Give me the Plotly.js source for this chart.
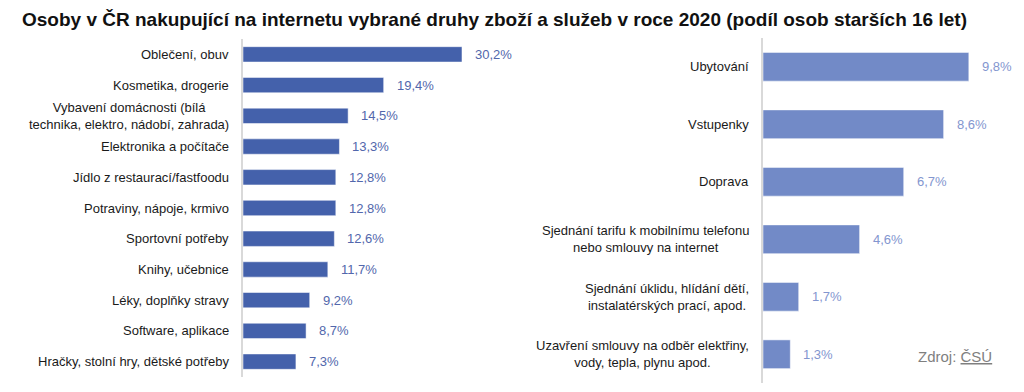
<!DOCTYPE html>
<html>
<head>
<meta charset="utf-8">
<script src="https://cdn.plot.ly/plotly-3.0.1.min.js"></script>
<style>html,body{margin:0;padding:0;background:#fff;}#chart{width:1024px;height:392px;}</style>
</head>
<body>
<div id="chart"></div>
<script>
// Data
const titleText = 'Osoby v ČR nakupující na internetu vybrané druhy zboží a služeb v roce 2020 (podíl osob starších 16 let)';
const goodsCategories = [
  'Oblečení, obuv',
  'Kosmetika, drogerie',
  'Vybavení domácnosti (bílá<br>technika, elektro, nádobí, zahrada)',
  'Elektronika a počítače',
  'Jídlo z restaurací/fastfoodu',
  'Potraviny, nápoje, krmivo',
  'Sportovní potřeby',
  'Knihy, učebnice',
  'Léky, doplňky stravy',
  'Software, aplikace',
  'Hračky, stolní hry, dětské potřeby'
];
const goodsValues = [30.2, 19.4, 14.5, 13.3, 12.8, 12.8, 12.6, 11.7, 9.2, 8.7, 7.3];
const servicesCategories = [
  'Ubytování',
  'Vstupenky',
  'Doprava',
  'Sjednání tarifu k mobilnímu telefonu<br>nebo smlouvy na internet',
  'Sjednání úklidu, hlídání dětí,<br>instalatérských prací, apod.',
  'Uzavření smlouvy na odběr elektřiny,<br>vody, tepla, plynu apod.'
];
const servicesValues = [9.8, 8.6, 6.7, 4.6, 1.7, 1.3];
const sourceText = 'Zdroj: <span style="text-decoration:underline">ČSÚ</span>';

const W = 1024, H = 392;
const FONT = 'Liberation Sans, Arial, sans-serif';
const fmt = v => v.toFixed(1).replace('.', ',') + '%';

const traces = [
  {
    type: 'bar', orientation: 'h',
    y: goodsCategories, x: goodsValues,
    xaxis: 'x', yaxis: 'y',
    marker: {color: '#4461AB', line: {color: 'rgba(255,255,255,0.5)', width: 1}},
    hoverinfo: 'skip', showlegend: false
  },
  {
    type: 'bar', orientation: 'h',
    y: servicesCategories, x: servicesValues,
    xaxis: 'x2', yaxis: 'y2',
    marker: {color: '#728AC7', line: {color: 'rgba(255,255,255,0.5)', width: 1}},
    hoverinfo: 'skip', showlegend: false
  }
];

const annotations = [];
function addLabels(cats, vals, xr, yr, valColor) {
  cats.forEach((c, i) => {
    annotations.push({
      xref: xr, yref: yr, x: 0, y: c, text: c,
      xanchor: 'right', yanchor: 'middle', align: 'center', xshift: -12,
      showarrow: false, font: {family: FONT, size: 13, color: '#1a1a1a'}
    });
    annotations.push({
      xref: xr, yref: yr, x: vals[i], y: c, text: fmt(vals[i]),
      xanchor: 'left', yanchor: 'middle', xshift: 11,
      showarrow: false, font: {family: FONT, size: 13, color: valColor}
    });
  });
}
addLabels(goodsCategories, goodsValues, 'x', 'y', '#5267AC');
addLabels(servicesCategories, servicesValues, 'x2', 'y2', '#8396CF');

annotations.push({
  xref: 'paper', yref: 'paper', x: 916 / W, y: 1 - 356 / H,
  xanchor: 'left', yanchor: 'middle', text: sourceText, showarrow: false,
  font: {family: FONT, size: 15, color: '#7f7f7f'}
});

const layout = {
  width: W, height: H,
  margin: {l: 0, r: 0, t: 0, b: 0},
  paper_bgcolor: '#ffffff', plot_bgcolor: '#ffffff',
  title: {
    text: '<b>' + titleText + '</b>',
    x: 22 / W, xanchor: 'left', xref: 'paper',
    y: 1 - 19 / H, yanchor: 'middle', yref: 'container',
    font: {family: FONT, size: 19, color: '#111111'}
  },
  xaxis: {domain: [243 / W, 520 / W], range: [0, 38.2], visible: false, fixedrange: true},
  yaxis: {
    domain: [1 - 377 / H, 1 - 39 / H], autorange: 'reversed',
    showticklabels: false, showgrid: false, zeroline: false,
    showline: true, linecolor: '#d9d9d9', linewidth: 2, ticks: '', anchor: 'x'
  },
  xaxis2: {domain: [763 / W, 1010 / W], range: [0, 11.76], visible: false, fixedrange: true, anchor: 'y2'},
  yaxis2: {
    domain: [1 - 383 / H, 1 - 38 / H], autorange: 'reversed',
    showticklabels: false, showgrid: false, zeroline: false,
    showline: true, linecolor: '#d9d9d9', linewidth: 2, ticks: '', anchor: 'x2'
  },
  bargap: 0.5,
  annotations: annotations
};

Plotly.newPlot('chart', traces, layout, {displayModeBar: false, staticPlot: true});
</script>
</body>
</html>
